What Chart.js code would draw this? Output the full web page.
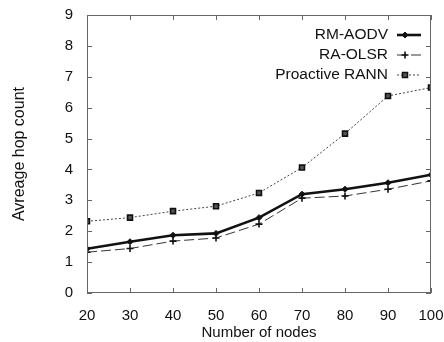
<!DOCTYPE html>
<html>
<head>
<meta charset="utf-8">
<script src="https://cdn.jsdelivr.net/npm/chart.js@4"></script>
<style>
  html, body { margin: 0; padding: 0; background: #fff; }
  #wrap { width: 444px; height: 342px; }
</style>
</head>
<body>
<div id="wrap"><canvas id="chartCanvas" width="444" height="342"></canvas></div>
<script>
// nodes on the x axis
var NODES = [20, 30, 40, 50, 60, 70, 80, 90, 100];

// average hop count per protocol
var RM_AODV = [1.43, 1.66, 1.87, 1.93, 2.44, 3.20, 3.36, 3.57, 3.83];
var RA_OLSR = [1.32, 1.44, 1.68, 1.78, 2.23, 3.07, 3.14, 3.36, 3.63];
var PRO_RANN = [2.32, 2.44, 2.65, 2.81, 3.24, 4.06, 5.16, 6.38, 6.65];

var Y_TICKS = [0, 1, 2, 3, 4, 5, 6, 7, 8, 9];

var FONT = "'Liberation Sans', Arial, sans-serif";

function series(label, values, style) {
  return Object.assign({
    label: label,
    data: NODES.map((n, i) => ({ x: n, y: values[i] })),
    fill: false,
    tension: 0,
    borderColor: '#111',
    pointBorderColor: '#111',
    pointBackgroundColor: '#111'
  }, style);
}

var datasets = [
  series('RM-AODV', RM_AODV, {
    borderWidth: 2.6, pointStyle: 'rectRot', pointRadius: 3, pointBorderWidth: 1
  }),
  series('RA-OLSR', RA_OLSR, {
    borderWidth: 1, borderDash: [10, 4], borderColor: '#333',
    pointStyle: 'cross', pointRadius: 3.5, pointBorderWidth: 1.6
  }),
  series('Proactive RANN', PRO_RANN, {
    borderWidth: 1, borderDash: [2, 2], borderColor: '#444',
    pointStyle: 'rect', pointRadius: 3.5, pointBorderWidth: 1.6,
    pointBackgroundColor: '#555'
  })
];

// gnuplot-ish frame: full box + inward ticks on all sides
var framePlugin = {
  id: 'frame',
  afterDraw(chart) {
    var ctx = chart.ctx, a = chart.chartArea;
    var xs = chart.scales.x, ys = chart.scales.y;
    ctx.save();
    ctx.strokeStyle = '#666';
    ctx.lineWidth = 1;
    ctx.strokeRect(a.left + 0.5, a.top + 0.5, a.right - a.left - 1, a.bottom - a.top - 1);
    ctx.beginPath();
    xs.ticks.forEach(t => {
      var x = Math.round(xs.getPixelForValue(t.value)) + 0.5;
      ctx.moveTo(x, a.bottom); ctx.lineTo(x, a.bottom - 5);
      ctx.moveTo(x, a.top); ctx.lineTo(x, a.top + 5);
    });
    ys.ticks.forEach(t => {
      var y = Math.round(ys.getPixelForValue(t.value)) + 0.5;
      ctx.moveTo(a.left, y); ctx.lineTo(a.left + 5, y);
      ctx.moveTo(a.right, y); ctx.lineTo(a.right - 5, y);
    });
    ctx.stroke();
    ctx.restore();
  }
};

// legend top right, text right-aligned with sample after it
var keyPlugin = {
  id: 'key',
  afterDatasetsDraw(chart) {
    var ctx = chart.ctx;
    var textRight = 388, x0 = 397, x1 = 421, y0 = 35, step = 20;
    ctx.save();
    ctx.font = '15.5px ' + FONT;
    ctx.textAlign = 'right';
    ctx.textBaseline = 'middle';
    chart.data.datasets.forEach((ds, i) => {
      var y = y0 + i * step;
      ctx.fillStyle = '#111';
      ctx.fillText(ds.label, textRight, y);
      ctx.strokeStyle = ds.borderColor;
      ctx.lineWidth = ds.borderWidth;
      ctx.setLineDash(ds.borderDash || []);
      ctx.beginPath();
      ctx.moveTo(x0, y); ctx.lineTo(x1, y);
      ctx.stroke();
      ctx.setLineDash([]);
      ctx.fillStyle = ds.pointBackgroundColor;
      ctx.strokeStyle = ds.pointBorderColor;
      ctx.lineWidth = ds.pointBorderWidth;
      Chart.helpers.drawPoint(ctx, {
        pointStyle: ds.pointStyle, radius: ds.pointRadius,
        borderWidth: ds.pointBorderWidth, rotation: 0
      }, x0 + 8, y);
    });
    ctx.restore();
  }
};

new Chart(document.getElementById('chartCanvas'), {
  type: 'line',
  data: { datasets: datasets },
  options: {
    responsive: false,
    animation: false,
    layout: { padding: { left: 10, top: 14, right: 13, bottom: 0 } },
    plugins: { legend: { display: false }, tooltip: { enabled: false } },
    scales: {
      x: {
        type: 'linear', min: 20, max: 100,
        afterBuildTicks: s => { s.ticks = NODES.map(v => ({ value: v })); },
        grid: { display: false },
        border: { display: false },
        ticks: { color: '#111', font: { family: FONT, size: 15 }, padding: 6, maxRotation: 0 },
        title: { display: true, text: 'Number of nodes', color: '#111',
                 font: { family: FONT, size: 15 }, padding: { top: 3, bottom: 0 } },
        afterFit: s => { s.height = 49; s.paddingLeft = 0; s.paddingRight = 0; }
      },
      y: {
        min: 0, max: 9,
        afterBuildTicks: s => { s.ticks = Y_TICKS.map(v => ({ value: v })); },
        grid: { display: false },
        border: { display: false },
        ticks: { color: '#111', font: { family: FONT, size: 15 }, padding: 6 },
        title: { display: true, text: 'Avreage hop count', color: '#111',
                 font: { family: FONT, size: 16 }, padding: { top: 0, bottom: 0 } },
        afterFit: s => { s.width = 77; }
      }
    }
  },
  plugins: [framePlugin, keyPlugin]
});
</script>
</body>
</html>
